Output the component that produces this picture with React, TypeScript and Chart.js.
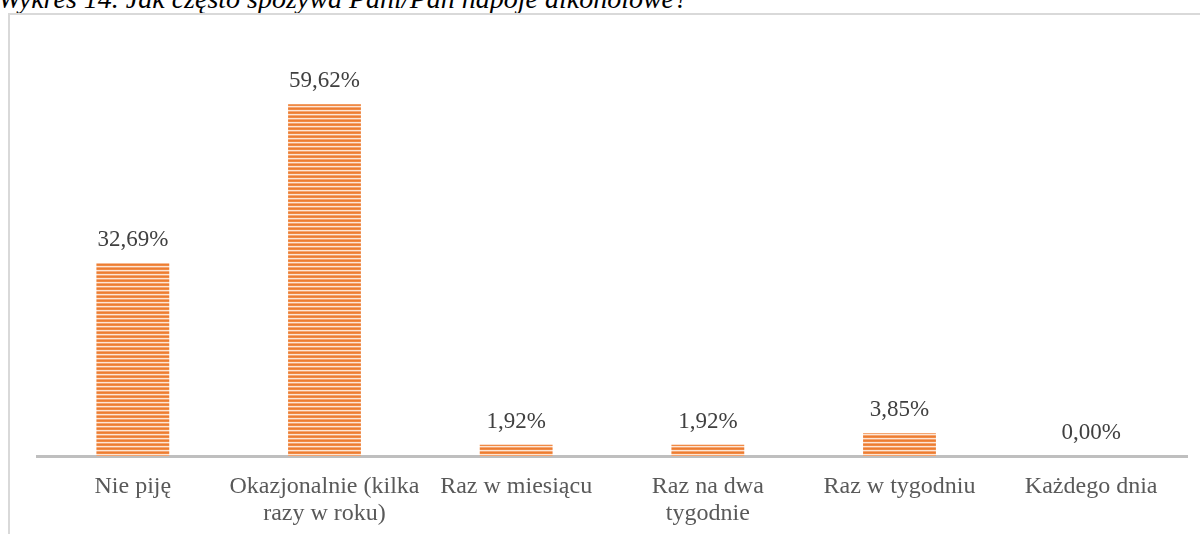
import React, { useEffect, useRef } from "react";
import { Chart, registerables } from "chart.js";

Chart.register(...registerables);

const TITLE = "Wykres 14. Jak często spożywa Pani/Pan napoje alkoholowe?";
const CATEGORIES: (string | string[])[] = [
  "Nie piję",
  ["Okazjonalnie (kilka", "razy w roku)"],
  "Raz w miesiącu",
  ["Raz na dwa", "tygodnie"],
  "Raz w tygodniu",
  "Każdego dnia",
];
const VALUES = [32.69, 59.62, 1.92, 1.92, 3.85, 0.0];
const Y_MAX = 70;

const FONT = "'Liberation Serif', 'Times New Roman', serif";

function makeStripePattern(): CanvasPattern | string {
  const pc = document.createElement("canvas");
  pc.width = 4;
  pc.height = 4;
  const c = pc.getContext("2d");
  if (!c) return "#ED7D31";
  const rows = ["#ED7D31", "#F08A45", "#FDE6D6", "#F4A470"];
  rows.forEach((col, i) => {
    c.fillStyle = col;
    c.fillRect(0, i, 4, 1);
  });
  const main = document.createElement("canvas").getContext("2d");
  const p = main ? main.createPattern(pc, "repeat") : null;
  return p || "#ED7D31";
}

const valueLabels = {
  id: "valueLabels",
  afterDatasetsDraw(chart: any) {
    const ctx = chart.ctx;
    const meta = chart.getDatasetMeta(0);
    ctx.save();
    ctx.font = `23px ${FONT}`;
    ctx.fillStyle = "#404040";
    ctx.textAlign = "center";
    ctx.textBaseline = "alphabetic";
    meta.data.forEach((el: any, i: number) => {
      const v = VALUES[i];
      const txt = v.toFixed(2).replace(".", ",") + "%";
      ctx.fillText(txt, el.x, el.y - 17);
    });
    ctx.restore();
  },
};

export default function App() {
  const ref = useRef<HTMLCanvasElement | null>(null);

  useEffect(() => {
    if (!ref.current) return;
    const pattern = makeStripePattern();
    const chart = new Chart(ref.current, {
      type: "bar",
      data: {
        labels: CATEGORIES,
        datasets: [
          {
            data: VALUES,
            backgroundColor: pattern as any,
            borderWidth: 0,
            barPercentage: 0.38,
            categoryPercentage: 1,
          },
        ],
      },
      options: {
        animation: false,
        responsive: false,
        maintainAspectRatio: false,
        layout: { padding: { left: 37, right: 13, top: 43, bottom: 0 } },
        plugins: {
          legend: { display: false },
          tooltip: { enabled: false },
          title: { display: false },
        },
        scales: {
          x: {
            grid: { display: false, drawTicks: false },
            border: { display: true, color: "#BFBFBF", width: 3 },
            ticks: {
              color: "#595959",
              font: { family: FONT, size: 24, lineHeight: 1.13 },
              padding: 17,
              maxRotation: 0,
              autoSkip: false,
            },
            afterFit: (s: any) => {
              s.height = 78;
            },
          },
          y: {
            display: false,
            min: 0,
            max: Y_MAX,
          },
        },
      },
      plugins: [valueLabels],
    });
    return () => chart.destroy();
  }, []);

  return (
    <div style={{ position: "absolute", left: 0, top: 0, width: 1200, height: 534, overflow: "hidden", background: "#fff" }}>
      <div
        style={{
          position: "absolute",
          left: -2,
          top: -15,
          fontFamily: FONT,
          fontStyle: "italic",
          fontSize: 28,
          lineHeight: "28px",
          color: "#000",
          whiteSpace: "nowrap",
        }}
      >
        {TITLE}
      </div>
      <div
        style={{
          position: "absolute",
          left: 8,
          top: 13,
          width: 1250,
          height: 600,
          border: "2px solid #D9D9D9",
          boxSizing: "border-box",
        }}
      />
      <canvas ref={ref} width={1200} height={534} style={{ position: "absolute", left: 0, top: 0, width: 1200, height: 534 }} />
    </div>
  );
}
